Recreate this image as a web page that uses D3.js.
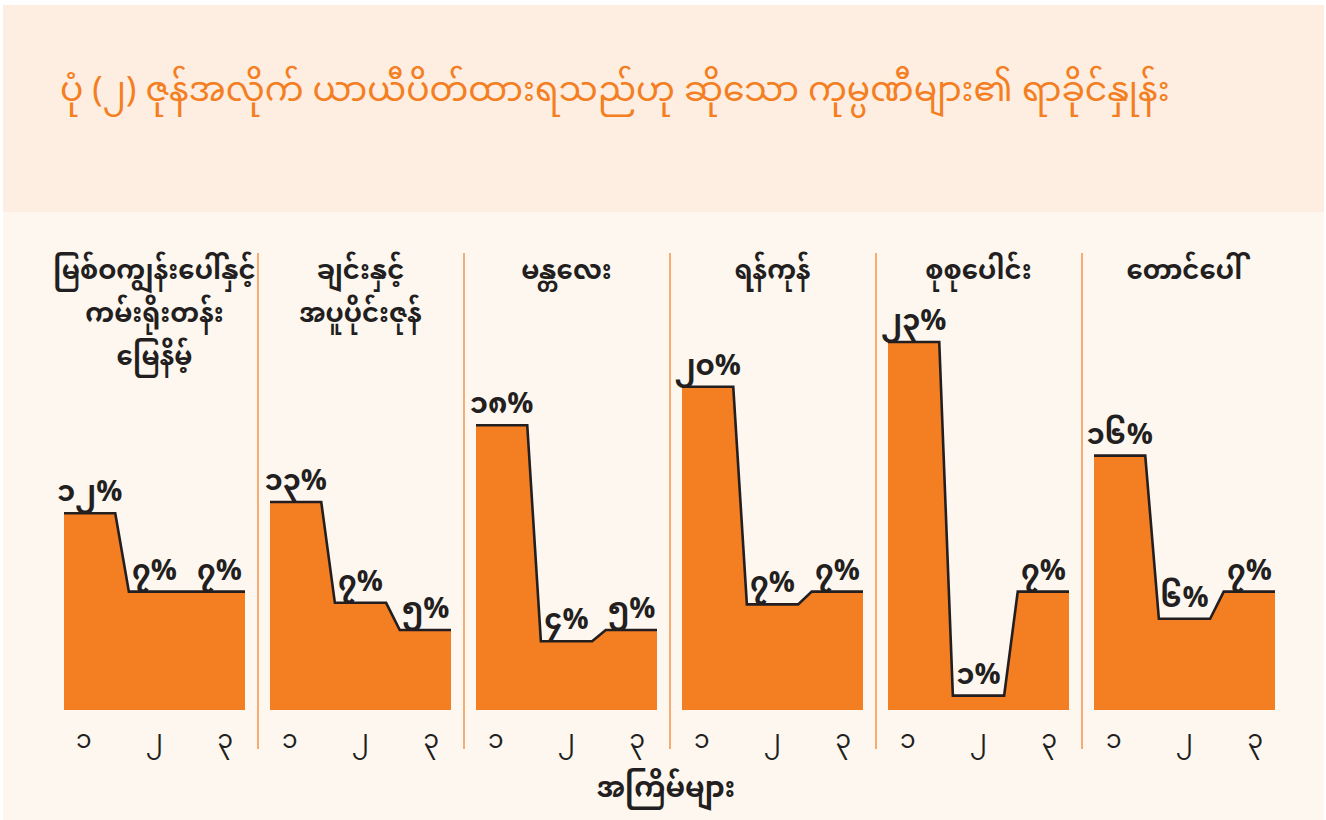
<!DOCTYPE html>
<html>
<head>
<meta charset="utf-8">
<script src="https://cdn.jsdelivr.net/npm/d3@7"></script>
<style>
  body { margin: 0; background: #ffffff; }
  text { font-family: "Noto Sans Myanmar", "Padauk", "Myanmar Text", "Noto Sans", sans-serif; }
</style>
</head>
<body>
<div id="chart"></div>
<script>
// Data
var title = "ပုံ (၂) ဇုန်အလိုက် ယာယီပိတ်ထားရသည်ဟု ဆိုသော ကုမ္ပဏီများ၏ ရာခိုင်နှုန်း";
var zones = [
    ["မြစ်ဝကျွန်းပေါ်နှင့်", "ကမ်းရိုးတန်း", "မြေနိမ့်"],
    ["ချင်းနှင့်", "အပူပိုင်းဇုန်"],
    ["မန္တလေး"],
    ["ရန်ကုန်"],
    ["စုစုပေါင်း"],
    ["တောင်ပေါ်"]
];
var rounds = ["၁", "၂", "၃"];
var values = [
    [12.3, 7.4, 7.4],
    [13.0, 6.7, 5.0],
    [17.8, 4.3, 5.0],
    [20.2, 6.6, 7.4],
    [23.0, 0.9, 7.4],
    [15.9, 5.7, 7.4]
];
var xTitle = "အကြိမ်များ";

var width = 1326, height = 820;
var orange = "#f47e22";
var ink = "#231f20";
var mmDigits = "၀၁၂၃၄၅၆၇၈၉";

function to_mm(n)
{
    return String(Math.round(n)).replace(/[0-9]/g, function(c) { return mmDigits[+c]; });
}

var svg = d3.select("#chart").append("svg")
    .attr("width", width)
    .attr("height", height);

// Backgrounds: title band and plot area
svg.append("rect")
    .attr("x", 3).attr("y", 5)
    .attr("width", width - 5).attr("height", 207)
    .attr("fill", "#fdeee1");
svg.append("rect")
    .attr("x", 3).attr("y", 212)
    .attr("width", width - 5).attr("height", height - 212)
    .attr("fill", "#fdf7f0");

svg.append("text")
    .attr("x", 60)
    .attr("y", 101)
    .attr("fill", orange)
    .style("font-size", "34.6px")
    .text(title);

// Panel layout
var panelStep = 206, panelLeft = 64, panelWidth = 181;
var baseY = 710;

var y = d3.scaleLinear().domain([0, 23]).range([baseY, 342]);
var x = d3.scaleBand().domain(rounds).range([0, panelWidth]).paddingInner(0.21).paddingOuter(0);
var xTick = d3.scalePoint().domain(rounds).range([0, panelWidth]).padding(0.28);

var area = d3.area()
    .x(function(d) { return d.x; })
    .y0(baseY)
    .y1(function(d) { return y(d.v); });
var line = d3.line()
    .x(function(d) { return d.x; })
    .y(function(d) { return y(d.v); });

values.forEach(function(vals, p)
{
    var g = svg.append("g")
        .attr("transform", "translate(" + (panelLeft + p * panelStep) + ",0)");

    // Two points per round so that each value has a flat top
    var pts = [];
    vals.forEach(function(v, i)
    {
        pts.push({x: x(rounds[i]), v: v});
        pts.push({x: x(rounds[i]) + x.bandwidth(), v: v});
    });

    g.append("path")
        .attr("d", area(pts))
        .attr("fill", orange);
    g.append("path")
        .attr("d", line(pts))
        .attr("fill", "none")
        .attr("stroke", ink)
        .attr("stroke-width", 2.6)
        .attr("stroke-linejoin", "miter");

    g.selectAll(".value")
        .data(vals)
        .enter().append("text")
        .attr("class", "value")
        .attr("x", function(d, i) { return x(rounds[i]) + x.bandwidth() / 2; })
        .attr("y", function(d) { return y(d) - 12; })
        .attr("text-anchor", "middle")
        .attr("fill", ink)
        .style("font-size", "29px")
        .style("font-weight", "bold")
        .text(function(d) { return to_mm(d) + "%"; });

    g.selectAll(".tick")
        .data(rounds)
        .enter().append("text")
        .attr("class", "tick")
        .attr("x", function(d) { return xTick(d); })
        .attr("y", 748)
        .attr("text-anchor", "middle")
        .attr("fill", ink)
        .style("font-size", "25px")
        .text(function(d) { return d; });

    g.selectAll(".head")
        .data(zones[p])
        .enter().append("text")
        .attr("class", "head")
        .attr("x", panelWidth / 2)
        .attr("y", function(d, i) { return 279 + i * 43; })
        .attr("text-anchor", "middle")
        .attr("fill", ink)
        .style("font-size", "26px")
        .style("font-weight", "bold")
        .text(function(d) { return d; });

    if (p > 0)
    {
        g.append("line")
            .attr("x1", -12).attr("x2", -12)
            .attr("y1", 253).attr("y2", 749)
            .attr("stroke", "#f59a52")
            .attr("stroke-width", 1.6);
    }
});

svg.append("text")
    .attr("x", 666)
    .attr("y", 797)
    .attr("text-anchor", "middle")
    .attr("fill", ink)
    .style("font-size", "28px")
    .style("font-weight", "bold")
    .text(xTitle);
</script>
</body>
</html>
